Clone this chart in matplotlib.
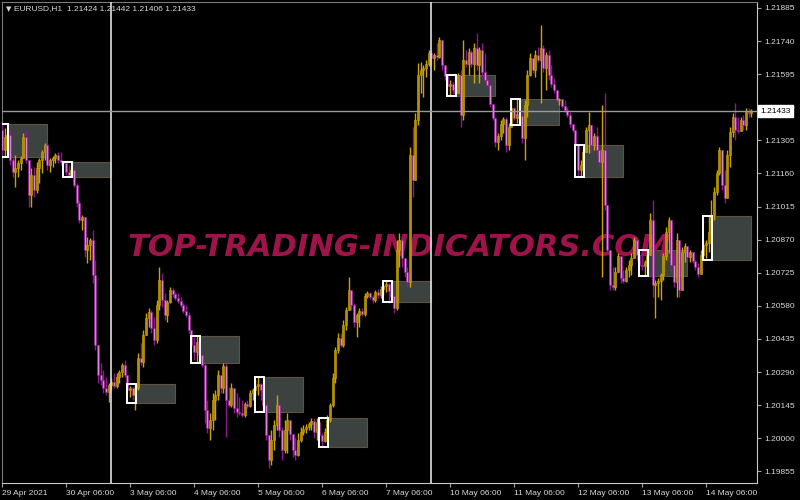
import matplotlib
matplotlib.use("Agg")
import matplotlib.pyplot as plt
import matplotlib.transforms as mtransforms
from matplotlib.patches import Rectangle
import numpy as np

# EURUSD H1, 29 Apr 2021 06:00 .. 14 May 2021 23:00
first_open = 1.21351
close = [1.21263, 1.21320, 1.21329, 1.21219, 1.21166, 1.21184, 1.21206, 1.21228, 1.21320, 1.21219,
         1.21066, 1.21154, 1.21088, 1.21184, 1.21219, 1.21254, 1.21285, 1.21197, 1.21219, 1.21228,
         1.21241, 1.21219, 1.21210, 1.21206, 1.21166, 1.21154, 1.21175, 1.21110, 1.21031, 1.20956,
         1.20970, 1.20825, 1.20847, 1.20869, 1.20716, 1.20409, 1.20278, 1.20256, 1.20221, 1.20203,
         1.20234, 1.20247, 1.20229, 1.20269, 1.20291, 1.20321, 1.20278, 1.20212, 1.20221, 1.20190,
         1.20221, 1.20352, 1.20334, 1.20453, 1.20527, 1.20553, 1.20484, 1.20431, 1.20584, 1.20694,
         1.20606, 1.20540, 1.20597, 1.20650, 1.20632, 1.20615, 1.20602, 1.20584, 1.20558, 1.20540,
         1.20475, 1.20409, 1.20378, 1.20422, 1.20365, 1.20321, 1.20124, 1.20046, 1.20080, 1.20168,
         1.20190, 1.20278, 1.20221, 1.20317, 1.20168, 1.20146, 1.20221, 1.20133, 1.20115, 1.20111,
         1.20103, 1.20150, 1.20142, 1.20199, 1.20212, 1.20229, 1.20238, 1.20212, 1.20146, 1.20015,
         1.19905, 1.19993, 1.20059, 1.20146, 1.20037, 1.19949, 1.20037, 1.20080, 1.20019, 1.19949,
         1.19927, 1.19993, 1.20028, 1.20041, 1.20050, 1.20063, 1.20076, 1.20028, 1.20072, 1.20015,
         1.19988, 1.20028, 1.20080, 1.20146, 1.20264, 1.20387, 1.20440, 1.20409, 1.20497, 1.20562,
         1.20650, 1.20584, 1.20510, 1.20540, 1.20558, 1.20545, 1.20624, 1.20637, 1.20619, 1.20606,
         1.20641, 1.20628, 1.20654, 1.20667, 1.20676, 1.20646, 1.20624, 1.20570, 1.20825, 1.20869,
         1.20790, 1.20729, 1.20685, 1.21241, 1.21132, 1.21394, 1.21592, 1.21613, 1.21622, 1.21640,
         1.21688, 1.21666, 1.21679, 1.21670, 1.21745, 1.21635, 1.21587, 1.21543, 1.21552, 1.21526,
         1.21513, 1.21592, 1.21416, 1.21657, 1.21640, 1.21692, 1.21640, 1.21710, 1.21635, 1.21701,
         1.21605, 1.21570, 1.21548, 1.21465, 1.21403, 1.21298, 1.21324, 1.21377, 1.21399, 1.21285,
         1.21364, 1.21447, 1.21403, 1.21421, 1.21412, 1.21316, 1.21460, 1.21592, 1.21666, 1.21613,
         1.21679, 1.21657, 1.21710, 1.21622, 1.21679, 1.21592, 1.21552, 1.21526, 1.21482, 1.21486,
         1.21456, 1.21438, 1.21416, 1.21377, 1.21351, 1.21285, 1.21175, 1.21197, 1.21254, 1.21351,
         1.21372, 1.21285, 1.21324, 1.21263, 1.21210, 1.21263, 1.21022, 1.20825, 1.20672, 1.20663,
         1.20729, 1.20799, 1.20702, 1.20689, 1.20737, 1.20759, 1.20790, 1.20869, 1.20803, 1.20759,
         1.20755, 1.20772, 1.20803, 1.20956, 1.20672, 1.20680, 1.20689, 1.20716, 1.20799, 1.20904,
         1.20956, 1.20759, 1.20685, 1.20869, 1.20650, 1.20816, 1.20843, 1.20794, 1.20816, 1.20777,
         1.20751, 1.20720, 1.20803, 1.20847, 1.20856, 1.20904, 1.20978, 1.21079, 1.21162, 1.21263,
         1.21110, 1.21053, 1.21241, 1.21342, 1.21408, 1.21351, 1.21346, 1.21394, 1.21372, 1.21429,
         1.21424, 1.21433]
high = [1.21377, 1.21359, 1.21337, 1.21351, 1.21241, 1.21241, 1.21219, 1.21237, 1.21337, 1.21351,
        1.21219, 1.21184, 1.21189, 1.21210, 1.21228, 1.21263, 1.21294, 1.21285, 1.21228, 1.21237,
        1.21250, 1.21254, 1.21254, 1.21210, 1.21210, 1.21197, 1.21189, 1.21175, 1.21118, 1.21044,
        1.20978, 1.20970, 1.20882, 1.20878, 1.20913, 1.20781, 1.20409, 1.20330, 1.20299, 1.20269,
        1.20243, 1.20264, 1.20287, 1.20287, 1.20299, 1.20330, 1.20343, 1.20278, 1.20229, 1.20225,
        1.20234, 1.20374, 1.20417, 1.20475, 1.20549, 1.20570, 1.20562, 1.20531, 1.20606, 1.20751,
        1.20724, 1.20637, 1.20606, 1.20663, 1.20659, 1.20641, 1.20637, 1.20619, 1.20593, 1.20584,
        1.20553, 1.20475, 1.20444, 1.20448, 1.20431, 1.20365, 1.20330, 1.20168, 1.20111, 1.20199,
        1.20212, 1.20299, 1.20269, 1.20330, 1.20330, 1.20225, 1.20243, 1.20199, 1.20199, 1.20181,
        1.20168, 1.20159, 1.20168, 1.20212, 1.20221, 1.20256, 1.20269, 1.20243, 1.20221, 1.20155,
        1.20006, 1.20037, 1.20080, 1.20190, 1.20155, 1.20050, 1.20080, 1.20111, 1.20080, 1.20015,
        1.20006, 1.20023, 1.20050, 1.20059, 1.20063, 1.20072, 1.20090, 1.20090, 1.20090, 1.20080,
        1.20023, 1.20046, 1.20103, 1.20155, 1.20287, 1.20400, 1.20461, 1.20461, 1.20518, 1.20575,
        1.20707, 1.20650, 1.20593, 1.20549, 1.20570, 1.20570, 1.20637, 1.20646, 1.20641, 1.20628,
        1.20650, 1.20654, 1.20667, 1.20680, 1.20689, 1.20680, 1.20659, 1.20628, 1.20869, 1.20899,
        1.20882, 1.20790, 1.20751, 1.21276, 1.21364, 1.21425, 1.21644, 1.21648, 1.21635, 1.21657,
        1.21701, 1.21701, 1.21688, 1.21732, 1.21758, 1.21723, 1.21635, 1.21587, 1.21570, 1.21561,
        1.21600, 1.21600, 1.21613, 1.21745, 1.21701, 1.21710, 1.21701, 1.21732, 1.21775, 1.21714,
        1.21732, 1.21688, 1.21583, 1.21556, 1.21465, 1.21408, 1.21337, 1.21394, 1.21408, 1.21408,
        1.21381, 1.21482, 1.21451, 1.21486, 1.21438, 1.21425, 1.21482, 1.21613, 1.21688, 1.21657,
        1.21701, 1.21714, 1.21810, 1.21723, 1.21692, 1.21701, 1.21635, 1.21578, 1.21526, 1.21491,
        1.21482, 1.21482, 1.21451, 1.21429, 1.21372, 1.21351, 1.21276, 1.21219, 1.21263, 1.21364,
        1.21429, 1.21342, 1.21337, 1.21364, 1.21263, 1.21460, 1.21513, 1.21022, 1.20825, 1.20751,
        1.20751, 1.20812, 1.20790, 1.20737, 1.20751, 1.20781, 1.20812, 1.20882, 1.20882, 1.20825,
        1.20812, 1.20781, 1.20825, 1.20987, 1.21044, 1.20694, 1.20702, 1.20724, 1.20812, 1.20926,
        1.20970, 1.20956, 1.20812, 1.20899, 1.20812, 1.20839, 1.20856, 1.20839, 1.20825, 1.20812,
        1.20781, 1.20768, 1.20825, 1.20869, 1.20869, 1.20974, 1.21044, 1.21101, 1.21175, 1.21276,
        1.21250, 1.21175, 1.21263, 1.21364, 1.21425, 1.21469, 1.21408, 1.21408, 1.21416, 1.21447,
        1.21447, 1.21442]
low = [1.21241, 1.21232, 1.21263, 1.21197, 1.21145, 1.21101, 1.21145, 1.21175, 1.21228, 1.21206,
       1.21013, 1.21013, 1.21057, 1.21075, 1.21118, 1.21162, 1.21219, 1.21175, 1.21166, 1.21189,
       1.21206, 1.21206, 1.21197, 1.21184, 1.21154, 1.21145, 1.21145, 1.21101, 1.21013, 1.20943,
       1.20913, 1.20794, 1.20768, 1.20781, 1.20680, 1.20387, 1.20243, 1.20234, 1.20199, 1.20190,
       1.20159, 1.20212, 1.20221, 1.20221, 1.20243, 1.20269, 1.20269, 1.20199, 1.20181, 1.20168,
       1.20124, 1.20212, 1.20321, 1.20313, 1.20453, 1.20488, 1.20461, 1.20409, 1.20417, 1.20562,
       1.20575, 1.20518, 1.20510, 1.20593, 1.20619, 1.20606, 1.20593, 1.20575, 1.20549, 1.20531,
       1.20461, 1.20396, 1.20343, 1.20330, 1.20352, 1.20313, 1.20067, 1.20023, 1.19993, 1.20037,
       1.20080, 1.20168, 1.20199, 1.20199, 1.20006, 1.20137, 1.20137, 1.20111, 1.20094, 1.20103,
       1.20094, 1.20094, 1.20133, 1.20137, 1.20168, 1.20190, 1.20190, 1.20168, 1.20124, 1.19993,
       1.19870, 1.19883, 1.19949, 1.20037, 1.20006, 1.19905, 1.19936, 1.19936, 1.19993, 1.19918,
       1.19905, 1.19923, 1.19984, 1.20015, 1.20023, 1.20037, 1.20037, 1.20002, 1.19993, 1.19993,
       1.19962, 1.19984, 1.20019, 1.20072, 1.20137, 1.20243, 1.20374, 1.20400, 1.20400, 1.20475,
       1.20562, 1.20562, 1.20488, 1.20444, 1.20488, 1.20536, 1.20536, 1.20615, 1.20610, 1.20593,
       1.20597, 1.20615, 1.20615, 1.20628, 1.20641, 1.20593, 1.20606, 1.20549, 1.20562, 1.20751,
       1.20751, 1.20707, 1.20663, 1.20663, 1.21057, 1.21206, 1.21372, 1.21513, 1.21495, 1.21583,
       1.21631, 1.21635, 1.21613, 1.21657, 1.21666, 1.21613, 1.21570, 1.21526, 1.21500, 1.21508,
       1.21504, 1.21513, 1.21364, 1.21394, 1.21627, 1.21592, 1.21627, 1.21556, 1.21613, 1.21556,
       1.21583, 1.21556, 1.21539, 1.21451, 1.21394, 1.21276, 1.21263, 1.21307, 1.21337, 1.21254,
       1.21263, 1.21372, 1.21394, 1.21381, 1.21403, 1.21294, 1.21219, 1.21408, 1.21587, 1.21600,
       1.21583, 1.21648, 1.21469, 1.21605, 1.21526, 1.21570, 1.21539, 1.21513, 1.21473, 1.21460,
       1.21447, 1.21429, 1.21408, 1.21364, 1.21342, 1.21263, 1.21145, 1.21145, 1.21197, 1.21263,
       1.21250, 1.21250, 1.21263, 1.21232, 1.21189, 1.20707, 1.21000, 1.20812, 1.20650, 1.20650,
       1.20650, 1.20729, 1.20680, 1.20680, 1.20685, 1.20707, 1.20716, 1.20799, 1.20781, 1.20737,
       1.20737, 1.20711, 1.20759, 1.20812, 1.20619, 1.20527, 1.20619, 1.20606, 1.20694, 1.20781,
       1.20812, 1.20724, 1.20663, 1.20619, 1.20619, 1.20724, 1.20772, 1.20781, 1.20772, 1.20768,
       1.20737, 1.20707, 1.20737, 1.20790, 1.20790, 1.20816, 1.20891, 1.20956, 1.21066, 1.21154,
       1.21088, 1.21031, 1.21110, 1.21189, 1.21320, 1.21307, 1.21337, 1.21364, 1.21351, 1.21351,
       1.21408, 1.21406]

date_labels = ["29 Apr 2021", "30 Apr 06:00", "3 May 06:00", "4 May 06:00", "5 May 06:00",
               "6 May 06:00", "7 May 06:00", "10 May 06:00", "11 May 06:00", "12 May 06:00",
               "13 May 06:00", "14 May 06:00"]
price_ticks = [1.21885, 1.21740, 1.21595, 1.21450, 1.21305, 1.21160, 1.21015, 1.20870,
               1.20725, 1.20580, 1.20435, 1.20290, 1.20145, 1.20000, 1.19855]

# one zone per day, anchored on the 06:00 bar
zone_top = [1.21377, 1.21210, 1.20238, 1.20448, 1.20269, 1.20089,
            1.20689, 1.21592, 1.21486, 1.21285, 1.20825, 1.20974]
zone_bottom = [1.21232, 1.21145, 1.20155, 1.20330, 1.20115, 1.19962,
               1.20597, 1.21500, 1.21373, 1.21145, 1.20711, 1.20781]

week_ends = [41, 161]  # bar index of Friday 23:00
bars_per_day = 24
last_price = 1.21433

UP_WICK, UP_BODY = "#cca400", "#b09000"
DN_WICK, DN_BODY = "#8c1a8c", "#e47ee4"
TXT = "#d8d8d8"

plt.rcParams['font.family'] = ['Liberation Sans', 'DejaVu Sans']

fig = plt.figure(figsize=(8, 5), dpi=100, facecolor="black")
ax = fig.add_axes([2 / 800, 17 / 500, 755 / 800, 481 / 500])
ax.set_facecolor("black")

n = len(close)
x = np.arange(n)
opens = np.array([first_open] + close[:-1])
c = np.array(close)
hi = np.maximum(np.array(high), np.maximum(opens, c))
lo = np.minimum(np.array(low), np.minimum(opens, c))
up = c >= opens

# zones
for k in range(len(zone_top)):
    a = k * bars_per_day
    ax.add_patch(Rectangle((a + 2.3, zone_bottom[k]), 14.7, zone_top[k] - zone_bottom[k],
                           facecolor="#3c4240", edgecolor="#5c5440", linewidth=0.8, zorder=1))

# watermark
ax.text(0.526, 0.49, "TOP-TRADING-INDICATORS.COM", transform=ax.transAxes, ha="center", va="center",
        fontsize=22, fontweight="bold", fontstyle="italic", family="DejaVu Sans",
        color="#a8164f", alpha=0.95, zorder=2)

# candles
wick_c = np.where(up, UP_WICK, DN_WICK)
body_c = np.where(up, UP_BODY, DN_BODY)
ax.vlines(x, lo, hi, colors=wick_c, linewidth=1.0, zorder=3)
body_lo = np.minimum(opens, c)
body_h = np.maximum(np.abs(c - opens), 0.00003)
ax.bar(x, body_h, bottom=body_lo, width=0.78, color=body_c, edgecolor=wick_c,
       linewidth=0.4, zorder=4)

# white boxes around the marked bars
for k in range(len(zone_top)):
    a = k * bars_per_day
    ax.add_patch(Rectangle((a - 1.0, zone_bottom[k]), 3.3, zone_top[k] - zone_bottom[k],
                           facecolor="none", edgecolor="white", linewidth=1.4, zorder=5))

# week separators and bid line
for w in week_ends:
    ax.axvline(w, color="#e0e0e0", linewidth=1.2, zorder=6)
ax.axhline(last_price, color="#9a9a9a", linewidth=1.0, zorder=6)

ax.set_xlim(0, 755 / (64 / 24))
ax.set_ylim(1.19804, 1.21911)

ax.set_xticks([i * bars_per_day for i in range(len(date_labels))])
ax.set_xticklabels(date_labels, ha="left")
ax.yaxis.tick_right()
ax.set_yticks(price_ticks)
ax.set_yticklabels(["%.5f" % p for p in price_ticks])
ax.tick_params(axis="both", colors="#a0a0a0", labelcolor=TXT, labelsize=6, length=3, width=0.8)
ax.tick_params(axis="x", pad=2)
ax.tick_params(axis="y", pad=2)
for side in ["left", "top"]:
    ax.spines[side].set_color("#7a7a7a")
for side in ["right", "bottom"]:
    ax.spines[side].set_color("#c8c8c8")

# current price tag
trans = mtransforms.blended_transform_factory(ax.transAxes, ax.transData)
ax.text(1.004, last_price, "%.5f" % last_price, transform=trans, ha="left", va="center",
        fontsize=6, color="black", clip_on=False, zorder=20,
        bbox=dict(boxstyle="square,pad=0.3", facecolor="white", edgecolor="white"))

fig.text(6 / 800, 1 - 9 / 500, "\u25bc", fontsize=5, color=TXT, va="center", ha="left",
         family=["DejaVu Sans"])
fig.text(14 / 800, 1 - 9 / 500, "EURUSD,H1  1.21424 1.21442 1.21406 1.21433",
         fontsize=6, color=TXT, va="center", ha="left")

fig.savefig("out.png", dpi=100, facecolor="black")
